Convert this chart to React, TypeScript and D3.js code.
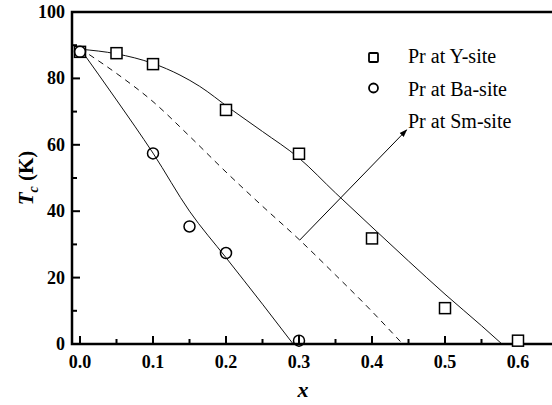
import * as d3 from "d3";

// Pr at Y-site (squares)
const ySiteX = [0, 0.05, 0.1, 0.2, 0.3, 0.4, 0.5, 0.6];
const ySiteTc = [88, 87.6, 84.3, 70.5, 57.3, 31.8, 10.8, 1.0];
// Pr at Ba-site (circles)
const baSiteX = [0, 0.1, 0.15, 0.2, 0.3];
const baSiteTc = [88, 57.4, 35.4, 27.4, 1.0];

// fitted curves
const ySiteFitX = [0, 0.05, 0.1, 0.137, 0.164, 0.205, 0.25, 0.3, 0.35, 0.4, 0.45, 0.5, 0.55, 0.578];
const ySiteFitTc = [88.8, 87.4, 84.5, 81, 77.6, 71, 64, 56, 45.5, 35.2, 25, 15, 5.5, 0];
const baSiteFitX = [0, 0.05, 0.1, 0.15, 0.2, 0.25, 0.292];
const baSiteFitTc = [89, 73.5, 57.5, 40, 26, 12, 0];
const smSiteFitX = [0, 0.05, 0.1, 0.15, 0.2, 0.25, 0.3, 0.35, 0.4, 0.442];
const smSiteFitTc = [89, 81.5, 73, 62.6, 51.8, 41.5, 31.5, 20.8, 9.8, 0];

const xTicks = [0, 0.1, 0.2, 0.3, 0.4, 0.5, 0.6];
const xMinor = [0.05, 0.15, 0.25, 0.35, 0.45, 0.55];
const yTicks = [0, 20, 40, 60, 80, 100];
const yMinor = [10, 30, 50, 70, 90];

const legendLabels = ["Pr at Y-site", "Pr at Ba-site", "Pr at Sm-site"];

// arrow from the dashed curve to the Sm-site label
const arrowFrom = [0.301, 31.3];
const arrowTo = [0.4475, 64.5];

const W = 552;
const H = 405;
const serif = "Liberation Serif, Times New Roman, DejaVu Serif, serif";

export default function App() {
  const x = d3.scaleLinear().domain([0, 0.6]).range([80, 518]);
  const y = d3.scaleLinear().domain([0, 100]).range([344, 12]);
  const left = 72;
  const right = x(0.65);
  const top = y(100);
  const bottom = y(0);

  const line = d3
    .line<[number, number]>()
    .x((d) => x(d[0]))
    .y((d) => y(d[1]))
    .curve(d3.curveMonotoneX);

  const zip = (a: number[], b: number[]) => a.map((v, i) => [v, b[i]] as [number, number]);
  const txt = { fontFamily: serif };

  return (
    <svg
      width={W}
      height={H}
      style={{ position: "absolute", left: 0, top: 0, background: "#fff", fontFamily: serif }}
    >
      <defs>
        <marker id="arrowHead" viewBox="0 0 10 10" refX="9" refY="5" markerWidth="8" markerHeight="8" orient="auto">
          <path d="M0,1.5 L10,5 L0,8.5 Z" fill="#000" />
        </marker>
      </defs>

      {/* curves */}
      <path d={line(zip(ySiteFitX, ySiteFitTc)) ?? ""} fill="none" stroke="#111" strokeWidth={1} />
      <path d={line(zip(baSiteFitX, baSiteFitTc)) ?? ""} fill="none" stroke="#111" strokeWidth={1} />
      <path
        d={line(zip(smSiteFitX, smSiteFitTc)) ?? ""}
        fill="none"
        stroke="#111"
        strokeWidth={1}
        strokeDasharray="6,5"
      />

      {/* arrow */}
      <line
        x1={x(arrowFrom[0])}
        y1={y(arrowFrom[1])}
        x2={x(arrowTo[0])}
        y2={y(arrowTo[1])}
        stroke="#000"
        strokeWidth={1}
        markerEnd="url(#arrowHead)"
      />

      {/* frame */}
      <path
        d={`M${left},${top} L${right},${top} L${right},${bottom} L${left},${bottom} Z`}
        fill="none"
        stroke="#000"
        strokeWidth={2.5}
      />

      {/* x ticks */}
      {xTicks.map((t) => (
        <g key={"xt" + t}>
          <line x1={x(t)} x2={x(t)} y1={bottom} y2={bottom - 8} stroke="#000" strokeWidth={2} />
          <text x={x(t)} y={368} textAnchor="middle" fontSize={18} fontWeight="bold" style={txt}>
            {t.toFixed(1)}
          </text>
        </g>
      ))}
      {xMinor.map((t) => (
        <line key={"xm" + t} x1={x(t)} x2={x(t)} y1={bottom} y2={bottom - 5} stroke="#000" strokeWidth={2} />
      ))}

      {/* y ticks */}
      {yTicks.map((t) => (
        <g key={"yt" + t}>
          <line x1={left} x2={left + 8} y1={y(t)} y2={y(t)} stroke="#000" strokeWidth={2} />
          <text x={65} y={y(t) + 6} textAnchor="end" fontSize={18} fontWeight="bold" style={txt}>
            {t}
          </text>
        </g>
      ))}
      {yMinor.map((t) => (
        <line key={"ym" + t} x1={left} x2={left + 5} y1={y(t)} y2={y(t)} stroke="#000" strokeWidth={2} />
      ))}

      {/* Y-site squares */}
      {ySiteX.map((v, i) => (
        <rect
          key={"sq" + i}
          x={x(v) - 5.5}
          y={y(ySiteTc[i]) - 5.5}
          width={11}
          height={11}
          fill="#fff"
          stroke="#000"
          strokeWidth={1.5}
        />
      ))}
      {/* Ba-site circles */}
      {baSiteX.map((v, i) => (
        <circle key={"ci" + i} cx={x(v)} cy={y(baSiteTc[i])} r={5.5} fill="none" stroke="#000" strokeWidth={1.5} />
      ))}

      {/* legend */}
      <rect x={369} y={53} width={9} height={9} fill="#fff" stroke="#000" strokeWidth={1.8} rx={1} />
      <circle cx={373.5} cy={88} r={4.5} fill="none" stroke="#000" strokeWidth={1.8} />
      {legendLabels.map((l, i) => (
        <text key={l} x={408} y={63 + i * 32.5} fontSize={20} style={txt}>
          {l}
        </text>
      ))}

      {/* axis titles */}
      <text x={303} y={397} textAnchor="middle" fontSize={22} fontWeight="bold" fontStyle="italic" style={txt}>
        x
      </text>
      <g transform="translate(33,178) rotate(-90)">
        <text textAnchor="middle" fontSize={21} fontWeight="bold" style={txt}>
          <tspan fontStyle="italic">T</tspan>
          <tspan fontStyle="italic" fontSize={14} dy={5}>c</tspan>
          <tspan dy={-5}> (K)</tspan>
        </text>
      </g>
    </svg>
  );
}
